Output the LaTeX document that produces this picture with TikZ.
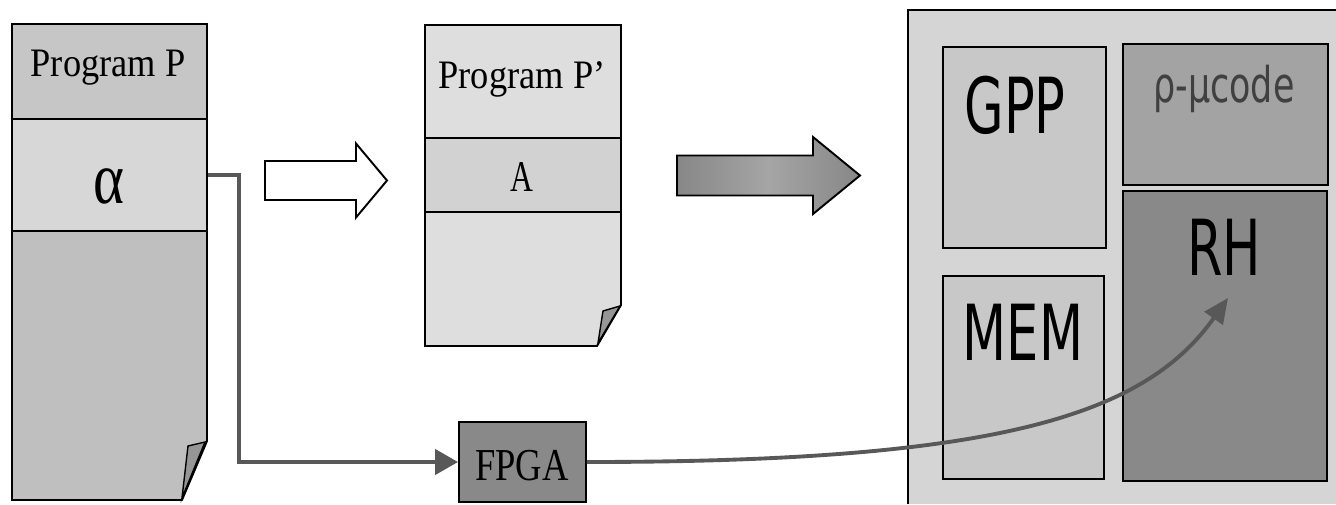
\documentclass[tikz,border=0pt]{standalone}
\usepackage{fontspec}
\setmainfont{Liberation Serif}
\newfontfamily\hwfont{DejaVu Sans}
\usepackage{graphicx}
\usepackage{tikz}
\usetikzlibrary{arrows.meta, positioning, calc}
\definecolor{pagebody}{RGB}{191,191,191}
\definecolor{pagehead}{RGB}{198,198,198}
\definecolor{bandlight}{RGB}{215,215,215}
\definecolor{pagelight}{RGB}{222,222,222}
\definecolor{bandmid}{RGB}{210,210,210}
\definecolor{foldc}{RGB}{150,150,150}
\definecolor{outerc}{RGB}{213,213,213}
\definecolor{unitc}{RGB}{200,200,200}
\definecolor{codec}{RGB}{163,163,163}
\definecolor{rhc}{RGB}{137,137,137}
\definecolor{connc}{RGB}{88,88,88}
\definecolor{arrowA}{RGB}{135,135,135}
\definecolor{arrowB}{RGB}{165,165,165}
\newcommand\blockarrow[4]{% length, head length, shaft half, head half
  +(0,-#3) -- +(#1-#2,-#3) -- +(#1-#2,-#4) -- +(#1,0) -- +(#1-#2,#4) -- +(#1-#2,#3) -- +(0,#3) -- cycle
}
\newcommand\narrow[2]{\scalebox{#1}[1]{#2}}

\begin{document}
\begin{tikzpicture}[x=0.02cm, y=-0.02cm,
  box/.style={draw, line width=1.1pt, inner sep=0pt},
  conn/.style={line width=2.5pt, draw=connc},
  serif/.style={anchor=base, inner sep=0pt},
  hw/.style={anchor=base, inner sep=0pt, font=\hwfont}]
\useasboundingbox (0,0) rectangle (1336,504);

\draw [line width=1.1pt, fill=pagebody] (12,24) -- (207,24) -- (207,441) -- (182,500) -- (12,500) -- cycle;
\draw [line width=0.8pt, fill=foldc] (188,446) -- (205,442) -- (182,498) -- cycle;
\node (headP) [box, fill=pagehead, minimum width=3.9cm, minimum height=1.9cm] at (109.5,71.5) {};
\node (alpha) [box, fill=bandlight, minimum width=3.9cm, minimum height=2.24cm] at (109.5,175) {};
\node (txtP) [serif] at (108,76) {\fontsize{23}{26}\selectfont\narrow{0.9}{Program P}};
\node (txtalpha) [serif] at (108.5,203) {\fontsize{42}{44}\selectfont\narrow{0.8}{α}};

\draw [line width=1.1pt, fill=white] (265,180.5) \blockarrow{122}{31}{19.5}{37};

\draw [line width=1.1pt, fill=pagelight] (425,25) -- (621,25) -- (621,305) -- (597,346) -- (425,346) -- cycle;
\draw [line width=0.8pt, fill=foldc] (603,311) -- (620,306) -- (598,343) -- cycle;
\node (bandA) [box, fill=bandmid, minimum width=3.92cm, minimum height=1.48cm] at (523,175) {};
\node (txtPp) [serif] at (522,88) {\fontsize{23}{26}\selectfont\narrow{0.9}{Program P’}};
\node (txtA) [serif] at (521.5,191) {\fontsize{25}{27}\selectfont\narrow{0.72}{A}};

\draw [line width=1.1pt, left color=arrowA, right color=arrowA, middle color=arrowB] (677,175.5) \blockarrow{183}{47}{20}{38.5};

\fill [outerc] (908,10) rectangle (1336,504);
\draw [line width=1.1pt] (908,504) -- (908,10) -- (1336,10);
\node (gpp) [box, fill=unitc, minimum width=3.26cm, minimum height=4.02cm] at (1024.5,147.5) {};
\node (mem) [box, fill=unitc, minimum width=3.22cm, minimum height=4.06cm] at (1023.5,377.5) {};
\node (ucode) [box, fill=codec, minimum width=4.1cm, minimum height=2.82cm] at (1225.5,114.5) {};
\node (rh) [box, fill=rhc, minimum width=4.08cm, minimum height=5.8cm] at (1225,336) {};
\node (txtgpp) [hw] at (1015,133) {\fontsize{44}{48}\selectfont\narrow{0.66}{GPP}};
\node (txtmem) [hw] at (1023,360) {\fontsize{44}{48}\selectfont\narrow{0.66}{MEM}};
\node (txtrh) [hw] at (1224,275) {\fontsize{44}{48}\selectfont\narrow{0.66}{RH}};
\node (txtucode) [hw, text=black!75] at (1224,102) {\fontsize{28}{30}\selectfont\narrow{0.71}{ρ-μcode}};

\node (fpga) [box, fill=rhc, minimum width=2.54cm, minimum height=1.6cm] at (522.5,462) {};
\node (txtfpga) [serif] at (522,480) {\fontsize{26}{28}\selectfont\narrow{0.8}{FPGA}};

\draw [conn, -{Triangle[length=0.46cm, width=0.5cm]}] (alpha.east) -- ++(31,0) |- (fpga.west);
\draw [conn, line width=2.2pt, -{Triangle[length=0.5cm, width=0.44cm]}] (fpga.east) .. controls (1000,462) and (1145,415) .. (1228,298);
\end{tikzpicture}
\end{document}
